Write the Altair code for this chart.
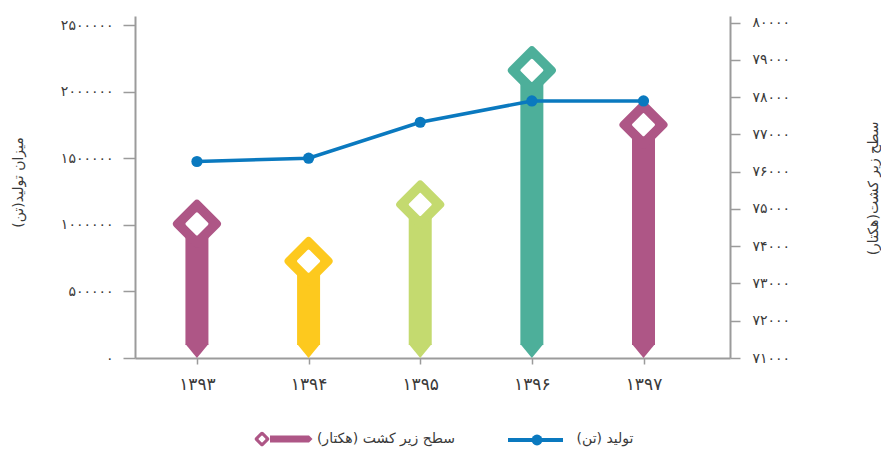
import altair as alt
import pandas as pd

# ---------------- data ----------------
years = [1393, 1394, 1395, 1396, 1397]
production = [1475000, 1500000, 1770000, 1930000, 1930000]   # تن (left axis)
area = [74600, 73600, 75120, 78720, 77260]                    # هکتار (right axis)
bar_colors = ["#AE5686", "#FDC91E", "#C4DA6F", "#4DAF9A", "#AE5686"]

left_ticks = [0, 500000, 1000000, 1500000, 2000000, 2500000]
right_ticks = [71000, 72000, 73000, 74000, 75000, 76000, 77000, 78000, 79000, 80000]

left_title = "میزان تولید(تن)"
right_title = "سطح زیر کشت(هکتار)"
legend_area = "سطح زیر کشت (هکتار)"
legend_prod = "تولید (تن)"

LINE_COLOR = "#0A79BF"
AREA_LEG_COLOR = "#AE5686"
AXIS_COLOR = "#9b9b9b"
TEXT_COLOR = "#3a3a3a"
FONT = "DejaVu Sans"

FA = "۰۱۲۳۴۵۶۷۸۹"


def fa_expr():
    e = "datum.label"
    for i, ch in enumerate(FA):
        e = f"replace({e}, regexp('{i}', 'g'), '{ch}')"
    return e


df = pd.DataFrame({
    "year": years,
    "production": production,
    "area": area,
    "color": bar_colors,
    "base": [right_ticks[0]] * len(years),
})

W, H = 595, 342


def axis_style(**kw):
    d = dict(
        domainColor=AXIS_COLOR, domainWidth=2, tickColor=AXIS_COLOR, tickWidth=1.5,
        labelColor=TEXT_COLOR, labelFont=FONT, labelFontSize=14, grid=False,
        titleColor=TEXT_COLOR, titleFont=FONT, titleFontSize=14, titleFontWeight="normal",
    )
    d.update(kw)
    return alt.Axis(**d)


x_enc = alt.X(
    "year:Q",
    scale=alt.Scale(domain=[1392.49, 1397.73], nice=False, zero=False),
    axis=axis_style(values=years, format="d", labelExpr=fa_expr(), title=None,
                    tickSize=6, labelPadding=12, labelFontSize=17),
)

area_scale = alt.Scale(domain=[71000, 80177], nice=False, zero=False)
area_axis = axis_style(orient="right", values=right_ticks, format="d", labelExpr=fa_expr(),
                       title=right_title, tickSize=10, labelPadding=12,
                       titleAngle=-90, titleX=143, titleY=172, titleAlign="center",
                       titleBaseline="middle", labelAlign="left")

prod_scale = alt.Scale(domain=[0, 2567568], nice=False, zero=True)
prod_axis = axis_style(orient="left", values=left_ticks, format="d", labelExpr=fa_expr(),
                       title=left_title, tickSize=12, labelPadding=10,
                       titleAngle=-90, titleX=-117, titleY=166, titleAlign="center",
                       titleBaseline="middle")


def ya(field):
    return alt.Y(f"{field}:Q", scale=area_scale, axis=area_axis)


base = alt.Chart(df)

stem = base.mark_bar(size=23, y2Offset=-13).encode(
    x=x_enc, y=ya("area"), y2="base:Q", color=alt.Color("color:N", scale=None)
)
tip = base.mark_point(shape="M-1,0L1,0L0,1.22Z", filled=True, size=529, yOffset=-14,
                      opacity=1, strokeWidth=0).encode(
    x=x_enc, y=ya("base"), color=alt.Color("color:N", scale=None)
)
diamond_out = base.mark_point(shape="diamond", filled=True, size=1600, strokeWidth=8,
                              strokeJoin="round", opacity=1).encode(
    x=x_enc, y=ya("area"), color=alt.Color("color:N", scale=None),
    stroke=alt.Stroke("color:N", scale=None)
)
diamond_in = base.mark_point(shape="diamond", filled=True, size=400, fill="white",
                             stroke="white", strokeWidth=3, strokeJoin="round",
                             opacity=1).encode(x=x_enc, y=ya("area"))

bars_layer = alt.layer(stem, tip, diamond_out, diamond_in)

y_prod = alt.Y("production:Q", scale=prod_scale, axis=prod_axis)
line = base.mark_line(color=LINE_COLOR, strokeWidth=3.5).encode(x=x_enc, y=y_prod)
pts = base.mark_circle(size=125, color=LINE_COLOR, opacity=1).encode(x=x_enc, y=y_prod)
line_layer = alt.layer(line, pts)

# ---------------- legend (drawn below the plot) ----------------
LY = 423
leg_a = alt.Chart(pd.DataFrame({"label": [legend_area]}))
leg_p = alt.Chart(pd.DataFrame({"label": [legend_prod]}))

leg_bar = leg_a.mark_rule(color=AREA_LEG_COLOR, strokeWidth=7).encode(
    x=alt.value(135), x2=alt.value(174), y=alt.value(LY))
leg_bar_tip = leg_a.mark_point(shape="M0,-1L1,0L0,1Z", filled=True, size=49,
                               color=AREA_LEG_COLOR, opacity=1, strokeWidth=0).encode(
    x=alt.value(174), y=alt.value(LY))
leg_dia_out = leg_a.mark_point(shape="diamond", filled=True, size=110, color=AREA_LEG_COLOR,
                               stroke=AREA_LEG_COLOR, strokeWidth=4, strokeJoin="round",
                               opacity=1).encode(x=alt.value(127), y=alt.value(LY))
leg_dia_in = leg_a.mark_point(shape="diamond", filled=True, size=30, fill="white",
                              stroke="white", strokeWidth=1.5, strokeJoin="round",
                              opacity=1).encode(x=alt.value(127), y=alt.value(LY))
leg_text_a = leg_a.mark_text(font=FONT, fontSize=14, color=TEXT_COLOR, align="center",
                             baseline="middle").encode(
    x=alt.value(251), y=alt.value(LY), text="label:N")

leg_line = leg_p.mark_rule(color=LINE_COLOR, strokeWidth=4).encode(
    x=alt.value(373), x2=alt.value(428), y=alt.value(LY + 1))
leg_dot = leg_p.mark_circle(size=120, color=LINE_COLOR, opacity=1).encode(
    x=alt.value(402), y=alt.value(LY + 1))
leg_text_p = leg_p.mark_text(font=FONT, fontSize=14, color=TEXT_COLOR, align="center",
                             baseline="middle").encode(
    x=alt.value(470), y=alt.value(LY), text="label:N")

main = alt.layer(bars_layer, line_layer).resolve_scale(y="independent")

chart = alt.layer(
    main,
    leg_bar, leg_bar_tip, leg_dia_out, leg_dia_in, leg_text_a,
    leg_line, leg_dot, leg_text_p,
).properties(
    width=W, height=H,
    background="white",
    autosize=alt.AutoSizeParams(type="none"),
    padding={"left": 127, "top": 8, "right": 151, "bottom": 92},
).configure_view(stroke=None)

chart.save("out.html", embed_options={"renderer": "svg", "actions": False})
